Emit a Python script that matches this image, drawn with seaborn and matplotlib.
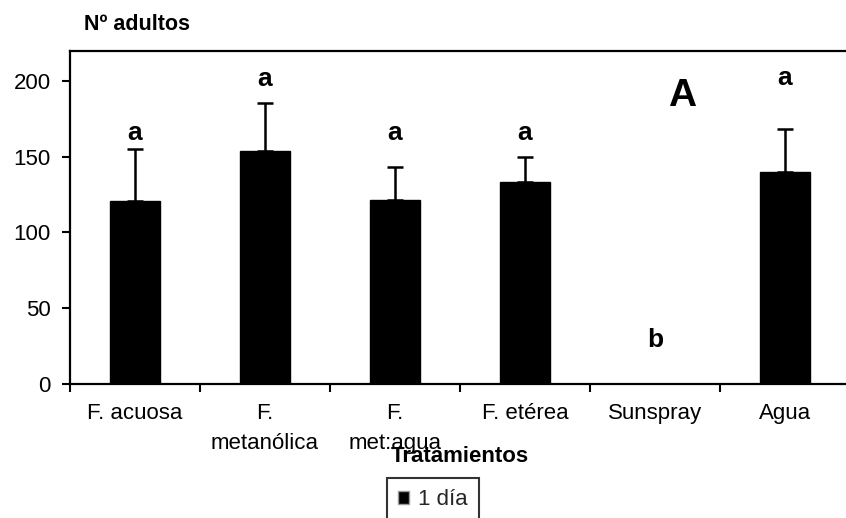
import matplotlib
matplotlib.use("Agg")
import matplotlib.pyplot as plt
import seaborn as sns
import pandas as pd
import numpy as np
from matplotlib.patches import Patch

categories = ["F. acuosa", "F.\nmetanólica", "F.\nmet:agua", "F. etérea", "Sunspray", "Agua"]
values = [120.5, 153.5, 121.7, 133.6, 0.0, 140.2]
errors = [34.3, 31.7, 21.5, 16.0, np.nan, 28.0]
letters = ["a", "a", "a", "a", "b", "a"]
letter_levels = [166, 201, 166, 166, 29, 202]
series_name = "1 día"
y_ticks = [0, 50, 100, 150, 200]

sns.set_theme(style="white")
plt.rcParams["font.family"] = ["Liberation Sans", "DejaVu Sans"]

df = pd.DataFrame({"Tratamiento": categories, "valor": values})

fig = plt.figure(figsize=(8.46, 5.18), dpi=100)
W, H = 846, 518
ax = fig.add_axes([70 / W, 1 - 384 / H, 780 / W, (384 - 50.7) / H])

sns.barplot(data=df, x="Tratamiento", y="valor", color="black", width=0.39,
            saturation=1, ax=ax, errorbar=None)
for p in ax.patches:
    p.set_edgecolor("black")

xs = np.arange(len(categories))
err = np.array(errors, dtype=float)
vals = np.array(values, dtype=float)
ax.errorbar(xs, vals, yerr=[np.zeros_like(err), err], fmt="none",
            ecolor="black", elinewidth=1.8, capsize=5.5, capthick=1.8)

for x, t, lv in zip(xs, letters, letter_levels):
    ax.text(x, lv, t, ha="center", va="center", fontsize=19, fontweight="bold", color="black")

ax.text(4.21, 190, "A", ha="center", va="center", fontsize=28, fontweight="bold", color="black")

ax.set_xlim(-0.5, len(categories) - 0.5)
ax.set_ylim(0, 220)
ax.set_yticks(y_ticks)
ax.set_yticklabels([str(v) for v in y_ticks], fontsize=16)
ax.set_xticks(xs)
ax.set_xticklabels(categories, fontsize=16, linespacing=1.55, va="top")
ax.tick_params(axis="x", which="major", length=0, pad=14)
ax.set_xticks(np.arange(len(categories) + 1) - 0.5, minor=True)
ax.tick_params(axis="x", which="minor", length=6, width=1.5, direction="out", color="black", bottom=True)
ax.tick_params(axis="y", length=6, width=1.5, direction="out", color="black", left=True, pad=8)
for lbl in ax.get_xticklabels() + ax.get_yticklabels():
    lbl.set_color("black")

for s in ["left", "bottom", "top", "right"]:
    ax.spines[s].set_visible(True)
    ax.spines[s].set_color("black")
    ax.spines[s].set_linewidth(1.6)

ax.set_ylabel("")
ax.set_xlabel("Tratamientos", fontsize=16, fontweight="bold", color="black")
ax.xaxis.set_label_coords(0.5, -0.219)
ax.xaxis.label.set_va("center")

fig.text(137 / W, 1 - 25 / H, "Nº adultos", ha="center", va="center",
         fontsize=15.5, fontweight="bold", color="black")

handle = Patch(facecolor="black", edgecolor="#999999", linewidth=1)
leg = fig.legend([handle], [series_name], loc="upper center",
                 bbox_to_anchor=(433 / W, 1 - 478 / H), frameon=True, fontsize=16,
                 fancybox=False, handlelength=0.5, handleheight=0.5, handletextpad=0.4,
                 borderpad=0.5, borderaxespad=0)
leg.get_frame().set_edgecolor("black")
leg.get_frame().set_linewidth(1.5)

fig.savefig("out.png", dpi=100)
